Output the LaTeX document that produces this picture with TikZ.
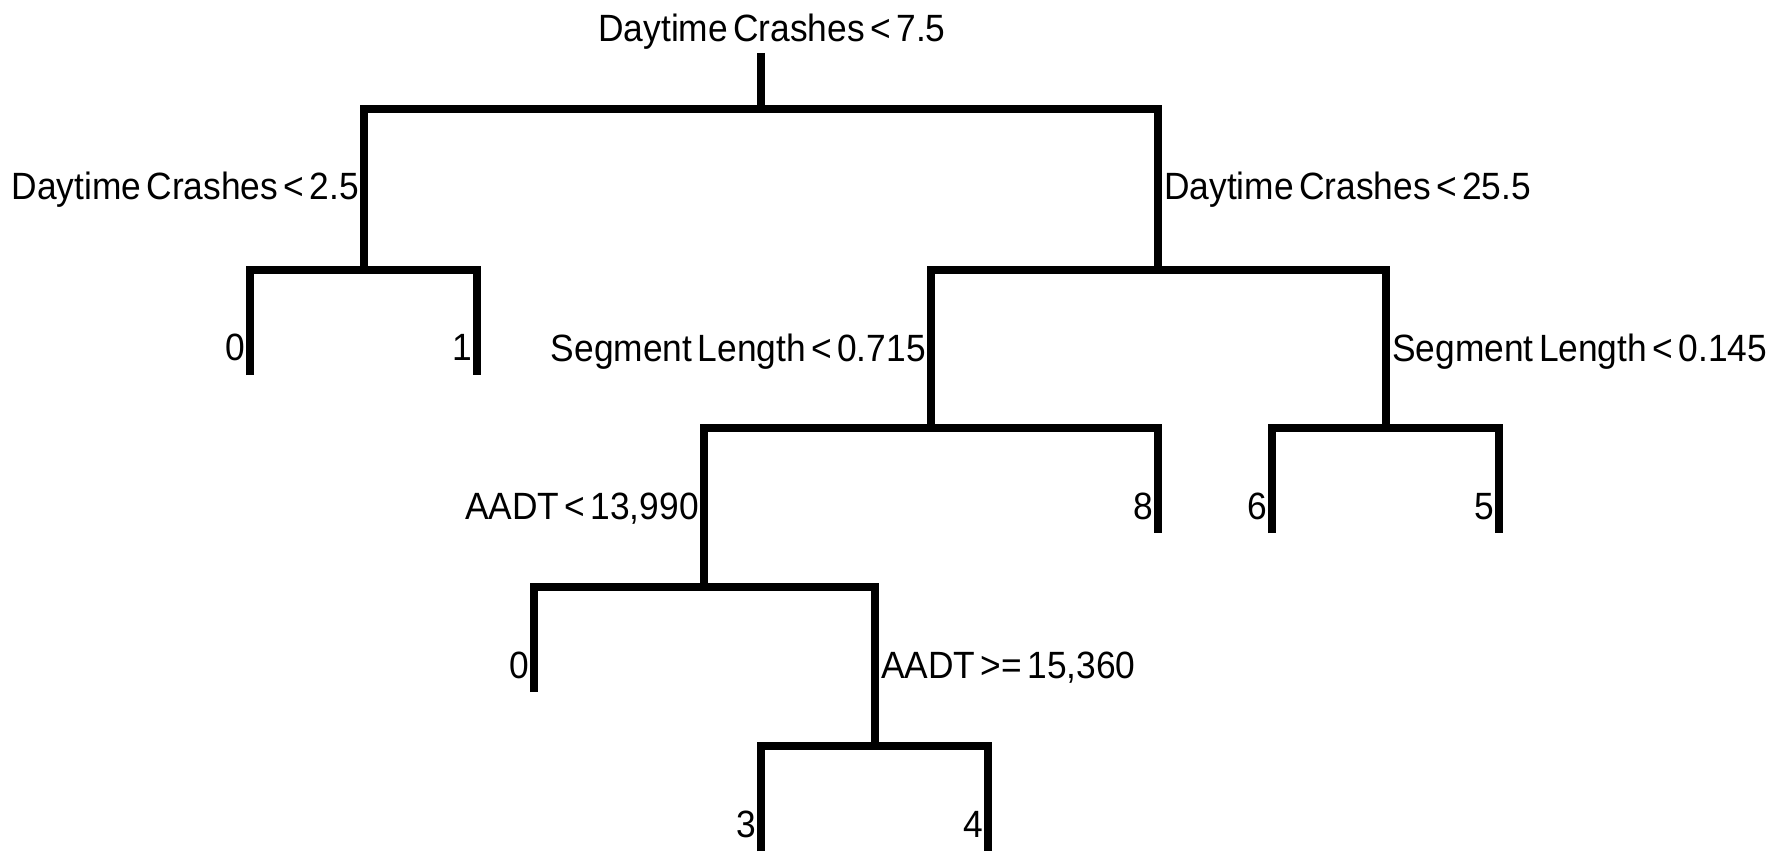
\documentclass[tikz,border=0pt]{standalone}
\usepackage{fontspec}
\setmainfont{Liberation Sans}[FakeStretch=0.93,WordSpace=0.55]
\begin{document}
\begin{tikzpicture}[x=1pt,y=-1pt,
  branch/.style={line width=8.3pt, line join=miter, line cap=butt},
  lbl/.style={inner sep=0pt, font=\fontsize{38}{41}\selectfont}]
\useasboundingbox (0,0) rectangle (1781,856);
% tree points
\coordinate (rt) at (761,53);
\coordinate (r)  at (761,109);
\coordinate (n1) at (364,109);
\coordinate (n2) at (1158,109);
\coordinate (a0) at (250,270);  \coordinate (a0e) at (250,375);
\coordinate (a1) at (477,270);  \coordinate (a1e) at (477,375);
\coordinate (n3) at (931,270);
\coordinate (n4) at (1386,270);
\coordinate (n5) at (704,428);
\coordinate (l8) at (1158,428); \coordinate (l8e) at (1158,533);
\coordinate (l6) at (1272,428); \coordinate (l6e) at (1272,533);
\coordinate (l5) at (1499,428); \coordinate (l5e) at (1499,533);
\coordinate (b0) at (534,587);  \coordinate (b0e) at (534,692);
\coordinate (n6) at (875,587);
\coordinate (l3) at (761,746);  \coordinate (l3e) at (761,851);
\coordinate (l4) at (988,746);  \coordinate (l4e) at (988,851);
% branches
\draw[branch] (rt) -- (r);
\draw[branch] (n1 |- a0) -- (n1) -- (n2) -- (n2 |- n3);
\draw[branch] (a0e) -- (a0) -- (a1) -- (a1e);
\draw[branch] (n3 |- n5) -- (n3) -- (n4) -- (n4 |- l6);
\draw[branch] (n5 |- b0) -- (n5) -- (l8) -- (l8e);
\draw[branch] (l6e) -- (l6) -- (l5) -- (l5e);
\draw[branch] (b0e) -- (b0) -- (n6) -- (n6 |- l3);
\draw[branch] (l3e) -- (l3) -- (l4) -- (l4e);
% labels
\node[lbl, anchor=base] (tr) at (772,42) {Daytime Crashes < 7.5};
\node[lbl, anchor=base east] (t1) at (359,200) {Daytime Crashes < 2.5};
\node[lbl, anchor=base west] (t2) at (1164,200) {Daytime Crashes < 25.5};
\node[lbl, anchor=base east] (ta0) at (245,360) {0};
\node[lbl, anchor=base east] (ta1) at (472,360) {1};
\node[lbl, anchor=base east] (t3) at (926,361) {Segment Length < 0.715};
\node[lbl, anchor=base west] (t4) at (1392,361) {Segment Length < 0.145};
\node[lbl, anchor=base east] (t5) at (699,519) {AADT < 13,990};
\node[lbl, anchor=base east] (t8) at (1153,519) {8};
\node[lbl, anchor=base east] (t6) at (1267,519) {6};
\node[lbl, anchor=base east] (tl5) at (1494,519) {5};
\node[lbl, anchor=base east] (tb0) at (529,678) {0};
\node[lbl, anchor=base west] (tn6) at (881,678) {AADT >= 15,360};
\node[lbl, anchor=base east] (tl3) at (756,837) {3};
\node[lbl, anchor=base east] (tl4) at (983,837) {4};
\end{tikzpicture}
\end{document}
